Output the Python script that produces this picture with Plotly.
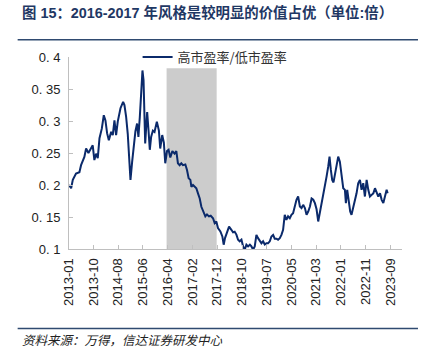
import plotly.graph_objects as go

# ---- data ----
dates = [
    "2013-01-04", "2013-01-30", "2013-02-19", "2013-03-30", "2013-05-10", "2013-05-30",
    "2013-07-09", "2013-07-30", "2013-08-27", "2013-09-20", "2013-10-18", "2013-11-07",
    "2013-11-28", "2013-12-18", "2014-01-08", "2014-02-05", "2014-03-01", "2014-03-21",
    "2014-04-10", "2014-05-01", "2014-05-29", "2014-06-18", "2014-07-08", "2014-07-28",
    "2014-08-17", "2014-09-19", "2014-10-21", "2014-11-06", "2014-11-26", "2014-12-16",
    "2015-01-06", "2015-01-18", "2015-02-07", "2015-02-27", "2015-03-19", "2015-04-08",
    "2015-04-24", "2015-05-11", "2015-05-27", "2015-06-12", "2015-06-25", "2015-07-07",
    "2015-07-15", "2015-07-27", "2015-08-08", "2015-08-24", "2015-09-09", "2015-09-25",
    "2015-10-16", "2015-11-05", "2015-12-03", "2015-12-28", "2016-01-13", "2016-02-06",
    "2016-02-26", "2016-03-14", "2016-04-04", "2016-04-23", "2016-05-14", "2016-06-08",
    "2016-07-05", "2016-07-26", "2016-08-14", "2016-09-04", "2016-09-24", "2016-10-14",
    "2016-11-12", "2016-12-02", "2016-12-22", "2017-01-12", "2017-01-24", "2017-02-13",
    "2017-03-05", "2017-03-25", "2017-04-14", "2017-05-05", "2017-05-25", "2017-06-14",
    "2017-07-12", "2017-08-01", "2017-08-25", "2017-09-15", "2017-10-13", "2017-11-02",
    "2017-11-22", "2017-12-12", "2018-01-10", "2018-02-03", "2018-02-19", "2018-03-07",
    "2018-04-01", "2018-04-25", "2018-05-23", "2018-06-12", "2018-07-02", "2018-07-23",
    "2018-08-12", "2018-09-01", "2018-09-22", "2018-10-12", "2018-11-01", "2018-11-21",
    "2018-12-11", "2019-01-02", "2019-01-21", "2019-02-10", "2019-03-02", "2019-03-22",
    "2019-04-11", "2019-05-02", "2019-05-22", "2019-06-11", "2019-07-01", "2019-07-21",
    "2019-08-10", "2019-08-31", "2019-09-20", "2019-10-10", "2019-10-30", "2019-11-19",
    "2019-12-09", "2019-12-30", "2020-01-19", "2020-02-08", "2020-02-28", "2020-03-19",
    "2020-04-08", "2020-04-29", "2020-05-19", "2020-06-08", "2020-06-28", "2020-07-19",
    "2020-08-08", "2020-08-29", "2020-09-18", "2020-10-08", "2020-10-29", "2020-11-18",
    "2020-12-08", "2020-12-29", "2021-01-18", "2021-02-07", "2021-02-27", "2021-03-19",
    "2021-04-08", "2021-04-29", "2021-05-19", "2021-06-08", "2021-06-28", "2021-07-18",
    "2021-08-07", "2021-08-23", "2021-09-08", "2021-09-24", "2021-10-10", "2021-10-27",
    "2021-11-16", "2021-12-06", "2021-12-26", "2022-01-16", "2022-02-05", "2022-02-25",
    "2022-03-09", "2022-03-25", "2022-04-14", "2022-04-30", "2022-05-16", "2022-06-05",
    "2022-06-26", "2022-07-16", "2022-08-05", "2022-08-26", "2022-09-15", "2022-10-05",
    "2022-10-25", "2022-11-15", "2022-12-05", "2022-12-25", "2023-01-15", "2023-02-04",
    "2023-02-24", "2023-03-16", "2023-04-05", "2023-04-26", "2023-05-16", "2023-06-05",
    "2023-06-25", "2023-07-15", "2023-07-27",
]
ratio = [
    0.200, 0.195, 0.208, 0.218, 0.220, 0.231,
    0.244, 0.257, 0.250, 0.255, 0.262, 0.239,
    0.249, 0.242, 0.273, 0.288, 0.309, 0.301,
    0.281, 0.270, 0.283, 0.278, 0.301, 0.278,
    0.299, 0.320, 0.330, 0.325, 0.307, 0.280,
    0.239, 0.208, 0.236, 0.260, 0.284, 0.296,
    0.275, 0.306, 0.353, 0.379, 0.364, 0.322,
    0.265, 0.290, 0.314, 0.286, 0.255, 0.275,
    0.285, 0.283, 0.299, 0.285, 0.257, 0.278,
    0.266, 0.234, 0.253, 0.255, 0.243, 0.253,
    0.249, 0.253, 0.234, 0.231, 0.234, 0.231,
    0.232, 0.2235, 0.2105, 0.208, 0.197, 0.200,
    0.197, 0.195, 0.187, 0.179, 0.166, 0.1585,
    0.151, 0.154, 0.151, 0.152, 0.148, 0.1405,
    0.143, 0.1327, 0.1275, 0.1196, 0.1067, 0.117,
    0.127, 0.135, 0.130, 0.126, 0.127, 0.1225,
    0.1145, 0.112, 0.1145, 0.104, 0.099, 0.1067,
    0.104, 0.1067, 0.104, 0.099, 0.104, 0.122,
    0.117, 0.112, 0.109, 0.112, 0.107, 0.109,
    0.109, 0.112, 0.1196, 0.122, 0.116, 0.116,
    0.1145, 0.117, 0.122, 0.130, 0.1535, 0.1456,
    0.151, 0.148, 0.1535, 0.156, 0.166, 0.1768,
    0.182, 0.1664, 0.164, 0.169, 0.164, 0.1535,
    0.1586, 0.1664, 0.179, 0.177, 0.1716, 0.162,
    0.143, 0.157, 0.1717, 0.182, 0.1975, 0.213,
    0.2287, 0.2443, 0.2235, 0.208, 0.204, 0.2157,
    0.2313, 0.2443, 0.2365, 0.218, 0.195, 0.1924,
    0.1717, 0.1924, 0.1768, 0.1586, 0.1535, 0.1638,
    0.1742, 0.187, 0.2028, 0.208, 0.1924, 0.2028,
    0.182, 0.208, 0.1924, 0.182, 0.1846, 0.187,
    0.195, 0.187, 0.182, 0.187, 0.1768, 0.1717,
    0.182, 0.1924, 0.187,
]

series_name = "高市盈率/低市盈率"

tick_dates = [
    "2013-01-04", "2013-10-27", "2014-08-21", "2015-06-17", "2016-04-12", "2017-02-06",
    "2017-12-02", "2018-10-01", "2019-07-23", "2020-05-18", "2021-03-14", "2022-01-08",
    "2022-11-03", "2023-09-01",
]
tick_labels = [
    "2013-01", "2013-10", "2014-08", "2015-06", "2016-04", "2017-02", "2017-12",
    "2018-10", "2019-07", "2020-05", "2021-03", "2022-01", "2022-11", "2023-09",
]
y_ticks = [0.1, 0.15, 0.2, 0.25, 0.3, 0.35, 0.4]
y_labels = ["0. 1", "0. 15", "0. 2", "0. 25", "0. 3", "0. 35", "0. 4"]

shade_start = "2016-03-30"
shade_end = "2017-11-26"
shade_top = 0.3824

x_range = ["2013-01-04", "2024-01-17"]
y_range = [0.1, 0.4]

title_text = "图 15：2016-2017 年风格是较明显的价值占优（单位:倍）"
source_text = "资料来源：万得，信达证券研发中心"

# ---- figure ----
fig = go.Figure()
fig.add_trace(go.Scatter(
    x=dates, y=ratio, mode="lines", name=series_name,
    line=dict(color="#0b2a6b", width=2),
))

fig.add_shape(type="rect", xref="x", yref="y",
              x0=shade_start, x1=shade_end, y0=y_range[0], y1=shade_top,
              fillcolor="#cccccc", line=dict(width=0), layer="below")

axis_font = dict(family="Liberation Sans, Arial, sans-serif", size=13, color="#222222")
fig.update_layout(
    width=428, height=356,
    margin=dict(l=69, r=26, t=57, b=107),
    paper_bgcolor="white", plot_bgcolor="white",
    showlegend=True,
    legend=dict(x=0.206, y=1.0, xanchor="left", yanchor="middle",
                bgcolor="rgba(0,0,0,0)",
                font=dict(family="Noto Sans CJK SC", size=13, color="#333333")),
    xaxis=dict(type="date", range=x_range, tickvals=tick_dates, ticktext=tick_labels,
               tickangle=-90, showgrid=False, zeroline=False,
               showline=True, linecolor="#bfbfbf", linewidth=1,
               ticks="inside", ticklen=4, tickcolor="#bfbfbf",
               ticklabelstandoff=3, tickfont=axis_font),
    yaxis=dict(range=y_range, tickvals=y_ticks, ticktext=y_labels,
               showgrid=False, zeroline=False,
               showline=True, linecolor="#bfbfbf", linewidth=1,
               ticks="inside", ticklen=4, tickcolor="#bfbfbf",
               ticklabelstandoff=5, tickfont=axis_font),
)

# title, rules and source note
fig.add_annotation(xref="paper", yref="paper", x=-0.148, y=1.232,
                   xanchor="left", yanchor="middle", showarrow=False,
                   text="<b>" + title_text + "</b>",
                   font=dict(family="Liberation Sans, Noto Sans CJK SC", size=14.4, color="#1f3864"))
fig.add_annotation(xref="paper", yref="paper", x=-0.148, y=-0.471,
                   xanchor="left", yanchor="middle", showarrow=False,
                   text="<i>" + source_text + "</i>",
                   font=dict(family="Noto Sans CJK SC", size=12.5, color="#222222"))
fig.add_shape(type="line", xref="paper", yref="paper", x0=-0.1542, x1=1.048,
              y0=1.0893, y1=1.0893, line=dict(color="#2f4a70", width=1.5))
fig.add_shape(type="line", xref="paper", yref="paper", x0=-0.1542, x1=1.048,
              y0=-0.4138, y1=-0.4138, line=dict(color="#2f4a70", width=1.5))

fig.write_html("out.html", config={"displayModeBar": False},
               post_script="document.body.style.margin='0';")
